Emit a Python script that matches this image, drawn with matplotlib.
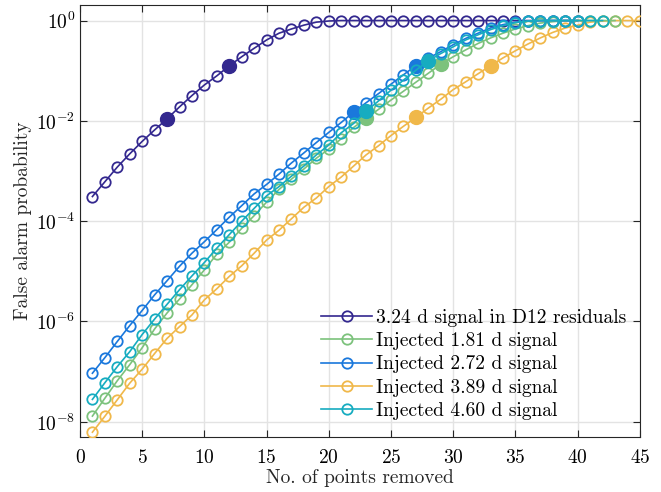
import numpy as np
import matplotlib
matplotlib.use("Agg")
import matplotlib.pyplot as plt

plt.rcParams['font.family'] = 'cmr10'
plt.rcParams['mathtext.fontset'] = 'cm'
plt.rcParams['axes.formatter.use_mathtext'] = True

# false alarm probability vs number of points removed
labels = ['3.24 d signal in D12 residuals', 'Injected 1.81 d signal',
          'Injected 2.72 d signal', 'Injected 3.89 d signal',
          'Injected 4.60 d signal']
colors = ['#33288f', '#7cc27c', '#1a78dc', '#f0b84a', '#16acc0']

fap_d12 = [3.1e-4, 6.1e-4, 1.2e-3, 2.2e-3, 3.9e-3, 6.6e-3, 1.1e-2, 1.9e-2, 3.2e-2,
           5.2e-2, 7.9e-2, 0.125, 0.19, 0.28, 0.41, 0.56, 0.68, 0.81, 0.93, 0.98] + [1.0] * 20
fap_181 = [1.3e-8, 2.95e-8, 6.6e-8, 1.38e-7, 3.0e-7, 7.1e-7, 1.48e-6, 2.8e-6, 5.4e-6,
           1.07e-5, 2.2e-5, 3.8e-5, 7.2e-5, 1.29e-4, 2.4e-4, 4.3e-4, 6.9e-4, 1.1e-3,
           1.8e-3, 2.75e-3, 4.4e-3, 7.4e-3, 1.12e-2, 1.7e-2, 2.6e-2, 3.9e-2, 5.9e-2,
           8.9e-2, 0.135, 0.19, 0.26, 0.35, 0.45, 0.56, 0.68, 0.79, 0.89, 0.95] + [1.0] * 5
fap_272 = [9.3e-8, 1.9e-7, 4.0e-7, 8.3e-7, 1.66e-6, 3.4e-6, 6.5e-6, 1.26e-5, 2.3e-5,
           3.9e-5, 6.8e-5, 1.2e-4, 2.04e-4, 3.5e-4, 5.4e-4, 8.7e-4, 1.45e-3, 2.3e-3,
           3.7e-3, 5.9e-3, 9.3e-3, 1.5e-2, 2.3e-2, 3.5e-2, 5.4e-2, 8.3e-2, 0.126,
           0.178, 0.24, 0.33, 0.44, 0.56, 0.71, 0.83, 0.93, 0.98] + [1.0] * 4
fap_389 = [6.2e-9, 1.29e-8, 2.75e-8, 5.9e-8, 1.12e-7, 2.3e-7, 4.6e-7, 7.9e-7, 1.35e-6,
           2.7e-6, 4.5e-6, 7.9e-6, 1.29e-5, 2.3e-5, 4.2e-5, 6.6e-5, 1.12e-4, 1.9e-4,
           2.9e-4, 4.9e-4, 7.6e-4, 1.26e-3, 2.1e-3, 3.2e-3, 5.1e-3, 7.8e-3, 1.17e-2,
           1.8e-2, 2.7e-2, 4.2e-2, 6.0e-2, 8.7e-2, 0.126, 0.18, 0.25, 0.34, 0.45, 0.58,
           0.71, 0.81, 0.93, 0.98, 1.0, 1.0, 1.0]
fap_460 = [2.8e-8, 6.0e-8, 1.26e-7, 2.5e-7, 5.5e-7, 1.12e-6, 2.2e-6, 4.3e-6, 8.1e-6,
           1.5e-5, 2.9e-5, 5.4e-5, 1.0e-4, 1.8e-4, 3.2e-4, 4.9e-4, 7.9e-4, 1.26e-3,
           2.1e-3, 3.3e-3, 5.8e-3, 8.9e-3, 1.55e-2, 2.5e-2, 4.1e-2, 6.5e-2, 0.102,
           0.158, 0.22, 0.30, 0.41, 0.52, 0.66, 0.79, 0.91, 0.98] + [1.0] * 6
series = [fap_d12, fap_181, fap_272, fap_389, fap_460]

# points where FAP crosses 1% and 10% (filled markers)
marked = [[7, 12], [23, 29], [22, 27], [27, 33], [23, 28]]
zorders = [2, 4, 5, 3, 6]

fig, ax = plt.subplots(figsize=(6.61, 4.92), dpi=100)
fig.subplots_adjust(left=0.121, right=0.968, top=0.990, bottom=0.112)

for fap, c, lab, mk, z in zip(series, colors, labels, marked, zorders):
    n = np.arange(1, len(fap) + 1)
    fap = np.array(fap)
    ax.semilogy(n, fap, '-o', color=c, lw=1.2, ms=7.5, mfc='none', mew=1.3,
                label=lab, zorder=z)
    idx = np.array(mk) - 1
    ax.semilogy(n[idx], fap[idx], 'o', color=c, ms=10, zorder=z + 0.5)

ax.set_xlim(0, 45)
ax.set_ylim(5e-9, 2.05)
ax.set_xticks(np.arange(0, 46, 5))
ax.set_yticks([1e-8, 1e-6, 1e-4, 1e-2, 1e0])
ax.yaxis.set_minor_locator(matplotlib.ticker.NullLocator())
ax.tick_params(direction='in', top=True, right=True, labelsize=14,
               color='#262626', length=5, width=0.8)
ax.tick_params(axis='x', pad=9)
for s in ax.spines.values():
    s.set_color('#262626')
    s.set_linewidth(0.8)
ax.grid(True, color='#e3e3e3', lw=1)
ax.set_axisbelow(True)

ax.set_xlabel('No. of points removed', fontsize=14, color='#262626', labelpad=1.5)
ax.set_ylabel('False alarm probability', fontsize=14, color='#262626', labelpad=3)

ax.legend(loc='upper left', bbox_to_anchor=(0.414, 0.319), frameon=False,
          fontsize=14, handlelength=2.6, handletextpad=0.18, labelspacing=0.27,
          borderpad=0)

fig.savefig('out.png', dpi=100)
